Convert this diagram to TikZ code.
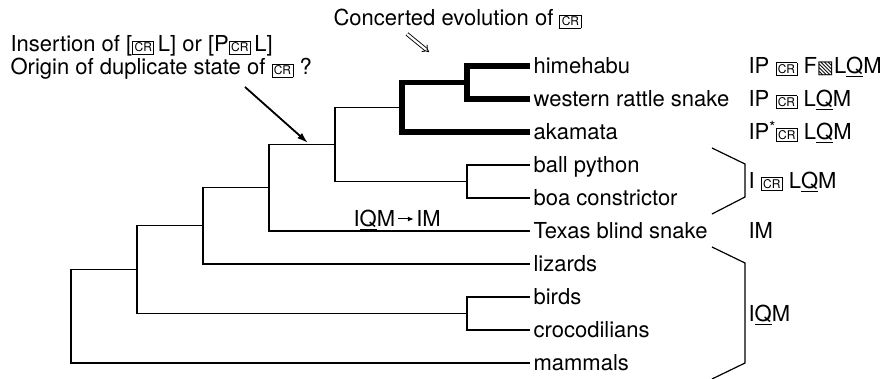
\documentclass[tikz,border=0pt]{standalone}
\usepackage{fontspec}
\setmainfont{TeX Gyre Heros}
\newfontfamily\symfont{DejaVu Sans}
\usetikzlibrary{positioning}
\usetikzlibrary{arrows.meta}

\newcommand{\crbox}{{\fboxsep=1.5pt\fboxrule=0.8pt\fbox{\fontsize{12}{12}\selectfont CR}}}
\newcommand{\hatchsq}{{\symfont\fontsize{18}{18}\selectfont ▧}}
\newcommand{\lqm}{L\underline{Q}M}

\begin{document}
\begin{tikzpicture}[
	x=1pt, y=-1pt,
	line width=1.2pt,
	font=\fontsize{22}{23}\selectfont
]
\tikzset{
    leaf/.style  = {anchor=west, inner sep=3pt, text height=15.5pt, text depth=0pt},
    state/.style = {anchor=west, inner sep=0pt, text height=15.5pt, text depth=0pt},
    note/.style  = {anchor=base west, inner sep=0pt, align=left},
    edgen/.style = {line width=1.2pt},
    edgeb/.style = {line width=5.5pt}
}
\useasboundingbox (0,0) rectangle (887,379);
% leaves
\node[leaf] at (530,66)  (hime)  {himehabu};
\node[leaf] at (530,99)  (west)  {western rattle snake};
\node[leaf] at (530,132) (aka)   {akamata};
\node[leaf] at (530,165) (ball)  {ball python};
\node[leaf] at (530,198) (boa)   {boa constrictor};
\node[leaf] at (530,231) (texas) {Texas blind snake};
\node[leaf] at (530,264) (liz)   {lizards};
\node[leaf] at (530,297) (birds) {birds};
\node[leaf] at (530,330) (croc)  {crocodilians};
\node[leaf] at (530,363) (mam)   {mammals};
% inner nodes
\coordinate (n1) at (467,82.5);
\coordinate (n2) at (402,107.3);
\coordinate (n3) at (467,181.5);
\coordinate (n4) at (335,144.4);
\coordinate (n5) at (269,187.7);
\coordinate (n6) at (203,225.8);
\coordinate (n7) at (467,313.5);
\coordinate (n8) at (137,269.7);
\coordinate (n0) at (71,316.3);
%
\draw[edgeb] (hime) -| (n1) |- (west);
\draw[edgeb] (n1) -| (n2) |- (aka);
\draw[edgen] (ball) -| (n3) |- (boa);
\draw[edgen] (n2) -| (n4) |- (n3);
\draw[edgen] (n4) -| (n5) |- (texas);
\draw[edgen] (n5) -| (n6) |- (liz);
\draw[edgen] (birds) -| (n7) |- (croc);
\draw[edgen] (n6) -| (n8) |- (n7);
\draw[edgen] (n8) -| (n0) |- (mam);
% states
\node[state] at (748,66)  (s1) {IP \crbox\ F\hatchsq\lqm};
\node[state] at (748,99)  (s2) {IP \crbox\ \lqm};
\node[state] at (748,132) (s3) {IP\textsuperscript{*}\crbox\ \lqm};
\node[state] at (748,181) (s4) {I \crbox\ \lqm};
\node[state] at (748,231) (s5) {IM};
\node[state] at (748,314) (s6) {I\underline{Q}M};
%
\draw[edgen] (712,148) -- (745,164) -- (745,197) -- (712,214);
\draw[edgen] (712,247) -- (745,263) -- (745,363) -- (712,379);
% change on the blind snake branch
\node[state, inner sep=2pt] at (351,219) (iqm) {I\underline{Q}M};
\node[state, inner sep=2pt, right=16pt of iqm] (imt) {IM};
\draw[-{Latex[length=6pt,width=5pt]}, line width=1pt] (iqm) -- (imt);
% notes
\node[note] at (333,26) (conc) {Concerted evolution of \crbox};
\coordinate (cea) at (407,34);
\coordinate (ceb) at (429,52);
\draw[double, double distance=2.2pt, line width=0.9pt, -{Implies}] (cea) -- (ceb);
\node[note] at (10,75) (ins) {Insertion of [\crbox\,L] or [P\crbox\,L]\\Origin of duplicate state of \crbox\ ?};
\coordinate (insa) at (245,87);
\coordinate (insb) at (308,143);
\draw[-{Latex[length=11pt,width=7pt]}, line width=1.8pt] (insa) -- (insb);
\end{tikzpicture}
\end{document}
